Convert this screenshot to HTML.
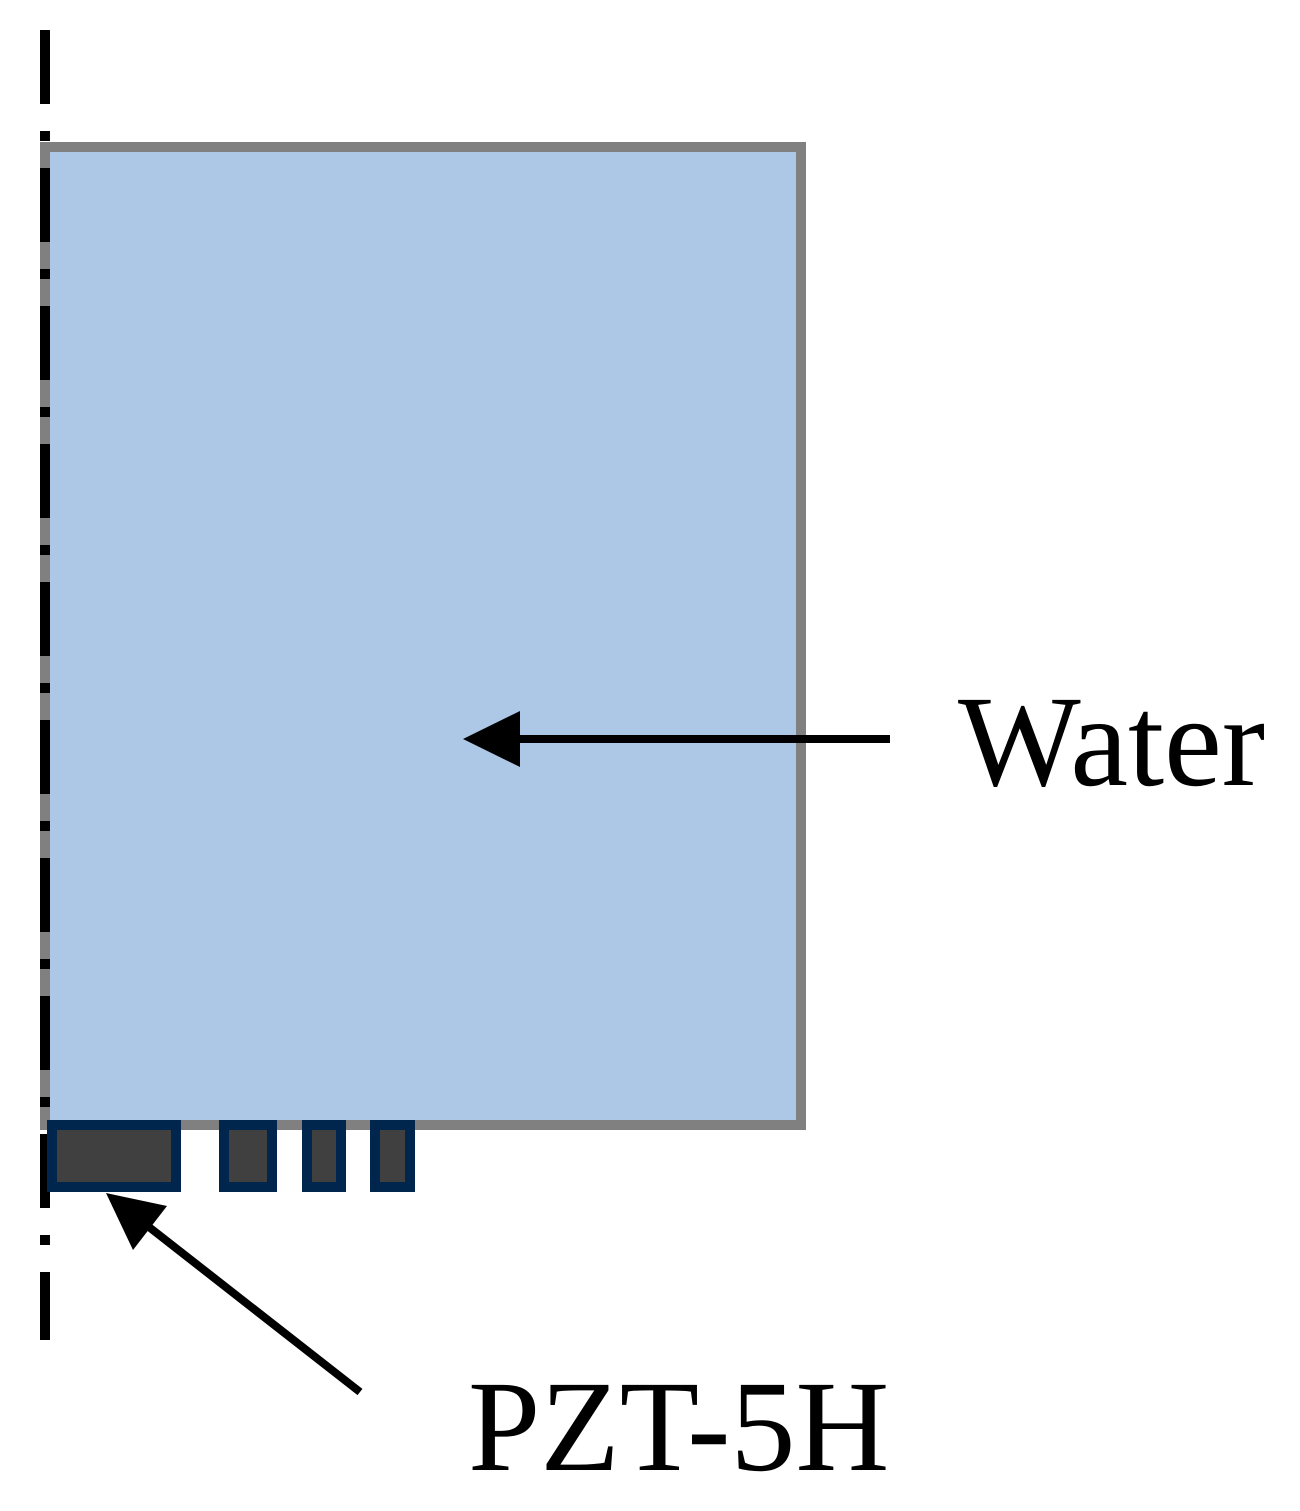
<!DOCTYPE html>
<html><head><style>
html,body{margin:0;padding:0;background:#fff;}
svg{display:block;}
text{font-family:"Liberation Serif",serif;}
</style></head><body>
<svg width="1300" height="1511" viewBox="0 0 1300 1511" xmlns="http://www.w3.org/2000/svg">
<rect x="45" y="147" width="756" height="978" fill="#adc7e7" stroke="#808080" stroke-width="10"/>
<line x1="45" y1="30" x2="45" y2="1340" stroke="#000" stroke-width="10" stroke-dasharray="74 27 10 27"/>
<g fill="#404040" stroke="#00264d" stroke-width="10">
<rect x="52" y="1125" width="124" height="62"/>
<rect x="224" y="1125" width="48" height="62"/>
<rect x="307" y="1125" width="34" height="62"/>
<rect x="375" y="1125" width="35" height="62"/>
</g>
<line x1="890" y1="739" x2="500" y2="739" stroke="#000" stroke-width="8"/>
<polygon points="463,739 520,711 520,767" fill="#000"/>
<line x1="360" y1="1392" x2="140" y2="1220" stroke="#000" stroke-width="8"/>
<polygon points="106,1193 167,1206 133,1250" fill="#000"/>
<text x="958" y="785" font-size="130">Water</text>
<text x="468" y="1470" font-size="130">PZT-5H</text>
</svg>
</body></html>
